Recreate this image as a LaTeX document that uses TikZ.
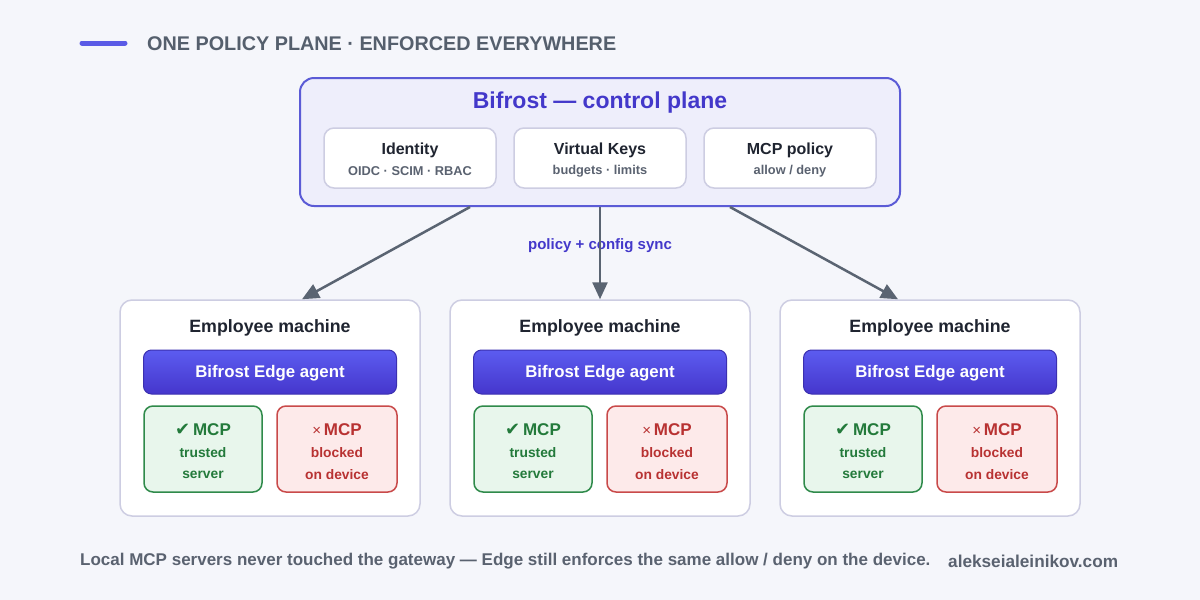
\documentclass[tikz,border=0pt]{standalone}
\usepackage{fontspec}
\setmainfont{Liberation Sans}
\newfontfamily\symfont{DejaVu Sans}
\usetikzlibrary{arrows.meta}

\definecolor{bgc}{HTML}{F5F6FB}
\definecolor{accent}{HTML}{5B5BE6}
\definecolor{indigo}{HTML}{4338CA}
\definecolor{headgray}{HTML}{555F6D}
\definecolor{ink}{HTML}{1F2430}
\definecolor{subgray}{HTML}{5A6270}
\definecolor{cpfill}{HTML}{EEEEFB}
\definecolor{cpline}{HTML}{5B5BD6}
\definecolor{cardline}{HTML}{CDCDE2}
\definecolor{arrowc}{HTML}{5A6472}
\definecolor{agenttop}{HTML}{5C5CF0}
\definecolor{agentbot}{HTML}{4536CC}
\definecolor{agentline}{HTML}{3B30B0}
\definecolor{okfill}{HTML}{E8F6EC}
\definecolor{okline}{HTML}{2F8A4A}
\definecolor{oktext}{HTML}{237A3B}
\definecolor{nofill}{HTML}{FDEAEA}
\definecolor{noline}{HTML}{C94A4A}
\definecolor{notext}{HTML}{B83232}

\tikzset{
  card/.style={draw=cardline, line width=1.5pt, fill=white, rounded corners=12pt, inner sep=0pt},
  subcard/.style={draw=cardline, line width=1.5pt, fill=white, rounded corners=10pt,
    minimum width=172pt, minimum height=60pt, inner sep=0pt},
  agent/.style={draw=agentline, line width=1pt, top color=agenttop, bottom color=agentbot,
    rounded corners=8pt, minimum width=253pt, minimum height=44pt, inner sep=0pt},
  agenttext/.style={text=white, inner sep=0pt, font=\fontsize{16.8}{19}\selectfont\bfseries},
  okbox/.style={draw=okline, line width=1.5pt, fill=okfill, rounded corners=9pt,
    minimum width=118pt, minimum height=86pt, inner sep=0pt},
  nobox/.style={draw=noline, line width=1.5pt, fill=nofill, rounded corners=9pt,
    minimum width=120pt, minimum height=86pt, inner sep=0pt},
  cardtitle/.style={font=\fontsize{16}{18}\selectfont\bfseries, text=ink, inner sep=0pt},
  cardsub/.style={font=\fontsize{12.8}{14}\selectfont\bfseries, text=subgray, inner sep=0pt},
  mtitle/.style={font=\fontsize{17.8}{20}\selectfont\bfseries, text=ink, inner sep=0pt},
  bigtag/.style={font=\fontsize{17}{19}\selectfont\bfseries, inner sep=0pt},
  smalltag/.style={font=\fontsize{13.8}{15}\selectfont\bfseries, inner sep=0pt},
  syncarrow/.style={draw=arrowc, line width=2.5pt, -{Triangle[length=17pt,width=15pt]}},
}

\newcommand{\machine}[2]{%
  % #1 = node prefix, #2 = horizontal centre
  \node[card, minimum width=300pt, minimum height=216pt] (#1) at (#2,408) {};
  \node[mtitle] (#1t) at (#2,327.5) {Employee machine};
  \node[agent] (#1a) at (#2,372) {};
  \node[agenttext] (#1at) at (#2,373.5) {Bifrost Edge agent};
  \node[okbox] (#1ok) at (#2-67,449) {};
  \node[bigtag, text=oktext] (#1okt) at (#2-67,429.5) {{\symfont\fontsize{18}{19}\selectfont ✔}\,MCP};
  \node[smalltag, text=oktext] (#1oka) at (#2-67,452.5) {trusted};
  \node[smalltag, text=oktext] (#1okb) at (#2-67,474.5) {server};
  \node[nobox] (#1no) at (#2+67,449) {};
  \node[bigtag, text=notext] (#1not) at (#2+67,429.5) {{\fontsize{15}{17}\selectfont\mdseries ×}\,MCP};
  \node[smalltag, text=notext] (#1noa) at (#2+67,452.5) {blocked};
  \node[smalltag, text=notext] (#1nob) at (#2+67,474.5) {on device};
}

\begin{document}
\begin{tikzpicture}[x=1pt, y=-1pt]
  % canvas
  \fill[bgc] (0,0) rectangle (1200,600);
  \useasboundingbox (0,0) rectangle (1200,600);

  % heading
  \coordinate (barl) at (82,43);
  \coordinate (barr) at (125,43);
  \draw[accent, line width=5pt, line cap=round] (barl) -- (barr);
  \node[anchor=west, inner sep=0pt, text=headgray, font=\fontsize{19.8}{22}\selectfont\bfseries]
    (head) at (147,44) {ONE POLICY PLANE · ENFORCED EVERYWHERE};

  % control plane
  \node[draw=cpline, line width=2pt, fill=cpfill, rounded corners=14pt,
        minimum width=600pt, minimum height=128pt, inner sep=0pt] (cp) at (600,142) {};
  \node[inner sep=0pt, text=indigo, font=\fontsize{23}{26}\selectfont\bfseries]
    (cptitle) at (600,102.5) {Bifrost — control plane};

  \node[subcard] (idb) at (410,158) {};
  \node[cardtitle] (idt) at (410,150) {Identity};
  \node[cardsub] (ids) at (410,171) {OIDC · SCIM · RBAC};

  \node[subcard] (vkb) at (600,158) {};
  \node[cardtitle] (vkt) at (600,150) {Virtual Keys};
  \node[cardsub] (vks) at (600,171) {budgets · limits};

  \node[subcard] (mpb) at (790,158) {};
  \node[cardtitle] (mpt) at (790,150) {MCP policy};
  \node[cardsub] (mps) at (790,171) {allow / deny};

  % employee machines
  \machine{ma}{270}
  \machine{mb}{600}
  \machine{mc}{930}

  % sync connectors
  \node[inner sep=0pt, text=indigo, font=\fontsize{15}{17}\selectfont\bfseries]
    (sync) at (600,246) {policy + config sync};
  \draw[syncarrow] ([xshift=-130pt]cp.south) -- ([xshift=32pt]ma.north);
  \draw[syncarrow] (cp.south) -- (mb.north);
  \draw[syncarrow] ([xshift=130pt]cp.south) -- ([xshift=-32pt]mc.north);

  % footer
  \node[anchor=west, inner sep=0pt, text=subgray, font=\fontsize{17}{19}\selectfont\bfseries]
    (foot) at (80,561) {Local MCP servers never touched the gateway — Edge still enforces the same allow / deny on the device.};
  \node[anchor=west, inner sep=0pt, text=subgray, font=\fontsize{17.2}{19}\selectfont\bfseries]
    (site) at (948,561) {alekseialeinikov.com};
\end{tikzpicture}
\end{document}
